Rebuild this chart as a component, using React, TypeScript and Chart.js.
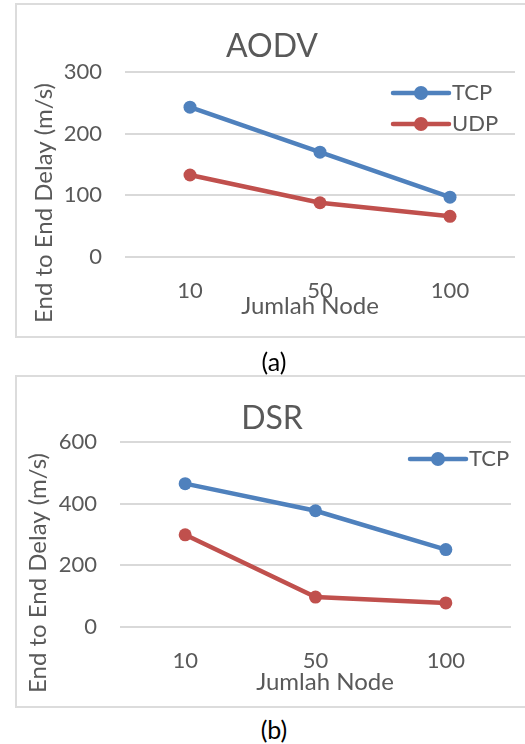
import React, { useEffect, useRef } from "react";
import { Chart, registerables } from "chart.js";

Chart.register(...registerables);

const categories = ["10", "50", "100"];
const aodvTcp = [243, 170, 97];
const aodvUdp = [133, 88, 66];
const dsrTcp = [465, 377, 251];
const dsrUdp = [299, 97, 78];
const aodvTicks = [0, 100, 200, 300];
const dsrTicks = [0, 200, 400, 600];

const BLUE = "#4F81BD";
const RED = "#C0504D";
const GRAY = "#595959";
const GRID = "#D9D9D9";
const FONT = "Lato, 'Open Sans', sans-serif";

type Cfg = {
  title: string;
  tcp: number[];
  udp: number[];
  ticks: number[];
  yWidth: number;
  padRight: number;
  titleX: number;
  titleY: number;
  yTitleX: number;
  yTitleY: number;
  xTitleX: number;
  xTitleY: number;
  legend: { label: string; color: string; y: number }[];
  legendX0: number;
  legendX1: number;
};

function ChartBox({ cfg, top }: { cfg: Cfg; top: number }) {
  const ref = useRef<HTMLCanvasElement | null>(null);
  useEffect(() => {
    if (!ref.current) return;
    const decor = {
      id: "decor",
      afterDraw(chart: any) {
        const ctx = chart.ctx;
        ctx.save();
        ctx.fillStyle = GRAY;
        ctx.textBaseline = "middle";
        // title
        ctx.font = `32px ${FONT}`;
        ctx.textAlign = "center";
        ctx.fillText(cfg.title, cfg.titleX, cfg.titleY);
        // x title
        ctx.font = `24px ${FONT}`;
        ctx.fillText("Jumlah Node", cfg.xTitleX, cfg.xTitleY);
        // y title
        ctx.save();
        ctx.translate(cfg.yTitleX, cfg.yTitleY);
        ctx.rotate(-Math.PI / 2);
        ctx.fillText("End to End Delay (m/s)", 0, 0);
        ctx.restore();
        // legend
        for (const item of cfg.legend) {
          ctx.strokeStyle = item.color;
          ctx.lineWidth = 4.5;
          ctx.lineCap = "round";
          ctx.beginPath();
          ctx.moveTo(cfg.legendX0, item.y);
          ctx.lineTo(cfg.legendX1, item.y);
          ctx.stroke();
          ctx.fillStyle = item.color;
          ctx.beginPath();
          ctx.arc((cfg.legendX0 + cfg.legendX1) / 2, item.y, 7, 0, Math.PI * 2);
          ctx.fill();
          ctx.fillStyle = GRAY;
          ctx.textAlign = "left";
          ctx.font = `22px ${FONT}`;
          ctx.fillText(item.label, cfg.legendX1 + 3, item.y);
        }
        ctx.restore();
      },
    };
    const ds = (label: string, data: number[], color: string) => ({
      label,
      data,
      borderColor: color,
      backgroundColor: color,
      borderWidth: 4.5,
      pointRadius: 6.5,
      pointBorderWidth: 0,
      pointBackgroundColor: color,
      tension: 0,
    });
    const chart = new Chart(ref.current, {
      type: "line",
      data: {
        labels: categories,
        datasets: [ds("TCP", cfg.tcp, BLUE), ds("UDP", cfg.udp, RED)],
      },
      options: {
        responsive: false,
        animation: false,
        layout: { padding: { left: 0, right: cfg.padRight, top: 72, bottom: 33 } },
        plugins: { legend: { display: false }, title: { display: false }, tooltip: { enabled: false } },
        scales: {
          x: {
            type: "category",
            offset: true,
            grid: { display: false },
            border: { display: false },
            ticks: { font: { family: FONT, size: 22 }, color: GRAY, padding: 13, maxRotation: 0 },
            afterFit: (s: any) => {
              s.height = 50;
            },
          },
          y: {
            min: cfg.ticks[0],
            max: cfg.ticks[cfg.ticks.length - 1],
            afterBuildTicks: (s: any) => {
              s.ticks = cfg.ticks.map((v) => ({ value: v }));
            },
            grid: { color: GRID, lineWidth: 2, drawTicks: false },
            border: { display: false },
            ticks: { font: { family: FONT, size: 22 }, color: GRAY, padding: 23 },
            afterFit: (s: any) => {
              s.width = cfg.yWidth;
            },
          },
        },
      },
      plugins: [decor],
    } as any);
    return () => chart.destroy();
  }, []);
  return (
    <canvas
      ref={ref}
      width={525}
      height={340}
      style={{ position: "absolute", left: 0, top, width: 525, height: 340 }}
    />
  );
}

const cfgA: Cfg = {
  title: "AODV",
  tcp: aodvTcp,
  udp: aodvUdp,
  ticks: aodvTicks,
  yWidth: 125,
  padRight: 10,
  titleX: 272,
  titleY: 47,
  yTitleX: 44,
  yTitleY: 203,
  xTitleX: 310,
  xTitleY: 306,
  legend: [
    { label: "TCP", color: BLUE, y: 93 },
    { label: "UDP", color: RED, y: 124 },
  ],
  legendX0: 393,
  legendX1: 449,
};

const cfgB: Cfg = {
  title: "DSR",
  tcp: dsrTcp,
  udp: dsrUdp,
  ticks: dsrTicks,
  yWidth: 120,
  padRight: 14,
  titleX: 272,
  titleY: 49,
  yTitleX: 38,
  yTitleY: 203,
  xTitleX: 325,
  xTitleY: 312,
  legend: [{ label: "TCP", color: BLUE, y: 89 }],
  legendX0: 410,
  legendX1: 466,
};

export default function App() {
  const box = (top: number, height: number): React.CSSProperties => ({
    position: "absolute",
    left: 15,
    top,
    width: 530,
    height,
    border: "2px solid #DCDCDC",
    boxSizing: "border-box",
  });
  const caption = (top: number): React.CSSProperties => ({
    position: "absolute",
    left: 224,
    width: 100,
    top,
    height: 30,
    lineHeight: "30px",
    textAlign: "center",
    fontFamily: FONT,
    fontSize: 25,
    color: "#000",
  });
  return (
    <div
      style={{
        position: "absolute",
        left: 0,
        top: 0,
        width: 525,
        height: 744,
        overflow: "hidden",
        background: "#fff",
      }}
    >
      <div style={box(3, 335)} />
      <div style={box(375, 333)} />
      <ChartBox cfg={cfgA} top={0} />
      <ChartBox cfg={cfgB} top={370} />
      <div style={caption(346)}>(a)</div>
      <div style={caption(714)}>(b)</div>
    </div>
  );
}
